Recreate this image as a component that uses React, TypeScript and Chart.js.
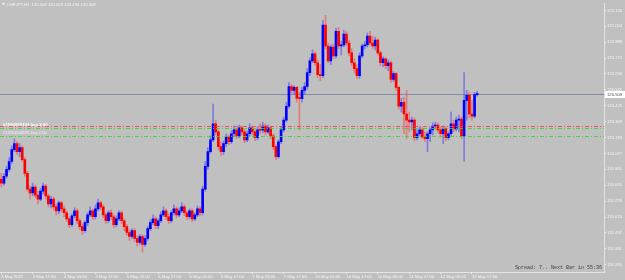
import React, { useEffect, useRef } from 'react';
import { Chart, registerables } from 'chart.js';
Chart.register(...registerables);

// ---------- data ----------
const symbolTitle = 'CHFJPY,H1  120.506 120.529 120.494 120.509';
const statusText = 'Spread: 7.. Next Bar in 55:36';
const firstOpen = 119.888;
const closes = [
  119.860, 119.910, 119.960, 120.018, 120.104, 120.148, 120.090, 120.119, 120.032, 119.931,
  119.816, 119.788, 119.831, 119.773, 119.744, 119.802, 119.838, 119.766, 119.708, 119.744,
  119.687, 119.658, 119.716, 119.672, 119.644, 119.600, 119.557, 119.622, 119.658, 119.586,
  119.543, 119.514, 119.572, 119.629, 119.658, 119.615, 119.672, 119.716, 119.687, 119.629,
  119.586, 119.644, 119.615, 119.557, 119.600, 119.644, 119.586, 119.543, 119.500, 119.471,
  119.514, 119.456, 119.428, 119.471, 119.413, 119.456, 119.528, 119.572, 119.600, 119.550,
  119.586, 119.629, 119.658, 119.615, 119.586, 119.644, 119.672, 119.629, 119.658, 119.687,
  119.644, 119.615, 119.658, 119.600, 119.629, 119.672, 119.644, 119.816, 119.982, 120.090,
  120.176, 120.292, 120.234, 120.126, 120.090, 120.148, 120.198, 120.162, 120.220, 120.248,
  120.205, 120.263, 120.234, 120.176, 120.220, 120.263, 120.234, 120.191, 120.248, 120.246,
  120.277, 120.234, 120.263, 120.205, 120.126, 120.054, 120.162, 120.248, 120.320, 120.421,
  120.565, 120.536, 120.558, 120.479, 120.476, 120.536, 120.565, 120.666, 120.752, 120.803,
  120.738, 120.652, 120.644, 121.012, 120.860, 120.752, 120.853, 120.788, 120.968, 120.860,
  120.868, 120.947, 120.882, 120.810, 120.738, 120.695, 120.644, 120.788, 120.860, 120.868,
  120.932, 120.882, 120.860, 120.904, 120.810, 120.738, 120.767, 120.716, 120.738, 120.616,
  120.659, 120.558, 120.421, 120.450, 120.364, 120.320, 120.306, 120.320, 120.191, 120.220,
  120.248, 120.198, 120.184, 120.220, 120.248, 120.277, 120.284, 120.248, 120.220, 120.256,
  120.191, 120.220, 120.292, 120.256, 120.320, 120.328, 120.205, 120.464, 120.500, 120.364,
  120.349, 120.506, 120.509,
];
const highs = [
  119.931, 119.931, 119.982, 120.047, 120.133, 120.184, 120.162, 120.148, 120.133, 120.047,
  119.946, 119.838, 119.860, 119.845, 119.802, 119.824, 119.860, 119.852, 119.780, 119.766,
  119.759, 119.708, 119.730, 119.730, 119.694, 119.658, 119.615, 119.636, 119.680, 119.672,
  119.600, 119.564, 119.586, 119.644, 119.687, 119.672, 119.701, 119.744, 119.730, 119.701,
  119.644, 119.658, 119.665, 119.629, 119.622, 119.658, 119.658, 119.600, 119.557, 119.521,
  119.528, 119.528, 119.478, 119.485, 119.485, 119.478, 119.543, 119.593, 119.629, 119.615,
  119.600, 119.651, 119.687, 119.672, 119.636, 119.658, 119.701, 119.687, 119.680, 119.716,
  119.701, 119.658, 119.672, 119.672, 119.644, 119.694, 119.687, 119.838, 120.018, 120.119,
  120.205, 120.436, 120.320, 120.248, 120.162, 120.169, 120.220, 120.212, 120.241, 120.277,
  120.263, 120.284, 120.277, 120.248, 120.241, 120.292, 120.277, 120.248, 120.270, 120.292,
  120.306, 120.292, 120.284, 120.277, 120.220, 120.140, 120.176, 120.270, 120.342, 120.450,
  120.594, 120.580, 120.572, 120.565, 120.522, 120.558, 120.594, 120.695, 120.774, 120.832,
  120.817, 120.760, 120.724, 121.048, 121.084, 120.882, 120.868, 120.875, 120.990, 120.997,
  120.896, 120.976, 120.968, 120.904, 120.839, 120.767, 120.724, 120.810, 120.875, 120.896,
  120.954, 120.968, 120.932, 120.925, 120.911, 120.824, 120.781, 120.774, 120.760, 120.752,
  120.673, 120.666, 120.565, 120.479, 120.486, 120.536, 120.378, 120.342, 120.335, 120.248,
  120.270, 120.263, 120.234, 120.234, 120.263, 120.299, 120.306, 120.299, 120.270, 120.277,
  120.270, 120.234, 120.378, 120.320, 120.342, 120.356, 120.342, 120.666, 120.536, 120.522,
  120.464, 120.522, 120.529,
];
const lows = [
  119.831, 119.845, 119.896, 119.946, 120.004, 120.090, 120.068, 120.054, 120.018, 119.910,
  119.802, 119.744, 119.766, 119.752, 119.708, 119.730, 119.780, 119.744, 119.687, 119.680,
  119.665, 119.629, 119.636, 119.651, 119.615, 119.579, 119.536, 119.543, 119.608, 119.564,
  119.521, 119.485, 119.500, 119.550, 119.615, 119.593, 119.600, 119.658, 119.665, 119.608,
  119.564, 119.572, 119.593, 119.536, 119.543, 119.586, 119.564, 119.514, 119.478, 119.442,
  119.456, 119.435, 119.399, 119.413, 119.356, 119.399, 119.442, 119.514, 119.557, 119.528,
  119.528, 119.572, 119.615, 119.593, 119.564, 119.572, 119.629, 119.608, 119.615, 119.644,
  119.622, 119.593, 119.600, 119.579, 119.586, 119.615, 119.622, 119.629, 119.802, 119.960,
  120.076, 120.162, 120.212, 120.104, 120.061, 120.068, 120.126, 120.140, 120.148, 120.198,
  120.184, 120.191, 120.212, 120.155, 120.162, 120.205, 120.212, 120.169, 120.176, 120.220,
  120.227, 120.212, 120.220, 120.184, 120.104, 120.032, 120.040, 120.148, 120.234, 120.306,
  120.407, 120.515, 120.508, 120.450, 120.248, 120.450, 120.508, 120.544, 120.644, 120.738,
  120.716, 120.630, 120.608, 120.630, 120.839, 120.738, 120.724, 120.767, 120.774, 120.839,
  120.796, 120.853, 120.860, 120.788, 120.716, 120.666, 120.623, 120.623, 120.774, 120.839,
  120.853, 120.868, 120.839, 120.832, 120.796, 120.716, 120.709, 120.695, 120.680, 120.594,
  120.601, 120.536, 120.400, 120.378, 120.220, 120.184, 120.234, 120.248, 120.169, 120.176,
  120.205, 120.184, 120.162, 120.090, 120.162, 120.212, 120.256, 120.227, 120.198, 120.148,
  120.169, 120.176, 120.205, 120.234, 120.241, 120.234, 120.184, 120.018, 120.320, 120.335,
  120.320, 120.335, 120.494,
];
const xTickIndex = [0, 12, 24, 36, 48, 60, 72, 84, 96, 108, 120, 132, 144, 156, 168, 180];
const xTickLabels = [
  '3 May 2021', '3 May 17:00', '4 May 05:00', '4 May 17:00', '5 May 05:00', '5 May 17:00',
  '6 May 05:00', '6 May 17:00', '7 May 05:00', '7 May 17:00', '10 May 05:00', '10 May 17:00',
  '11 May 05:00', '11 May 17:00', '12 May 05:00', '12 May 17:00',
];
const yTickValues = [
  121.120, 121.004, 120.888, 120.772, 120.656, 120.541, 120.425, 120.309, 120.193,
  120.077, 119.961, 119.845, 119.729, 119.613, 119.497, 119.381, 119.265,
];
const yTickLabels = [
  '121.120', '121.004', '120.888', '120.772', '120.656', '120.541', '120.425', '120.309', '120.193',
  '120.077', '119.961', '119.845', '119.729', '119.613', '119.497', '119.381', '119.265',
];
const bidPrice = 120.509;
const stopLevel = 120.275;
const orderLevels = [120.263, 120.205];
const orderLabels = ['#1990026193 buy 2.00', '#1990026095 buy 2.00'];
const TOTAL_SLOTS = 231;
const Y_MAX = 121.17;
const Y_MIN = 119.212;

// ---------- style ----------
const BG = '#c0c0c0';
const UP = '#0000ff';
const DOWN = '#ff0000';
const UP_WICK = 'rgba(60,60,255,0.5)';
const DOWN_WICK = 'rgba(255,60,60,0.5)';
const AXIS_TEXT = '#f4f4f4';
const FONT = 'Liberation Sans';

const opens = closes.map((_, i) => (i === 0 ? firstOpen : closes[i - 1]));
const slotLabels = Array.from({ length: TOTAL_SLOTS }, (_, i) => String(i));

const mtPlugin = {
  id: 'mt4',
  beforeDraw(chart: any) {
    const ctx = chart.ctx;
    ctx.save();
    ctx.fillStyle = BG;
    ctx.fillRect(0, 0, chart.width, chart.height);
    ctx.restore();
  },
  beforeDatasetsDraw(chart: any) {
    const { ctx, chartArea, scales } = chart;
    const y = Math.round(scales.y.getPixelForValue(bidPrice)) + 0.5;
    ctx.save();
    ctx.strokeStyle = 'rgba(120,128,165,0.85)';
    ctx.lineWidth = 1;
    ctx.beginPath();
    ctx.moveTo(chartArea.left, y);
    ctx.lineTo(chartArea.right, y);
    ctx.stroke();
    ctx.restore();
  },
  afterDatasetsDraw(chart: any) {
    const { ctx, chartArea, scales } = chart;
    ctx.save();
    ctx.lineWidth = 1;
    ctx.setLineDash([4, 2, 1, 2]);
    const ys = Math.round(scales.y.getPixelForValue(stopLevel)) + 0.5;
    ctx.strokeStyle = 'rgba(255,60,60,0.85)';
    ctx.beginPath();
    ctx.moveTo(chartArea.left, ys);
    ctx.lineTo(chartArea.right, ys);
    ctx.stroke();
    ctx.strokeStyle = 'rgba(50,215,50,0.85)';
    orderLevels.forEach((lv) => {
      const yy = Math.round(scales.y.getPixelForValue(lv)) + 0.5;
      ctx.beginPath();
      ctx.moveTo(chartArea.left, yy);
      ctx.lineTo(chartArea.right, yy);
      ctx.stroke();
    });
    ctx.setLineDash([]);
    ctx.textBaseline = 'middle';
    ctx.textAlign = 'left';
    orderLabels.forEach((t, i) => {
      const yy = scales.y.getPixelForValue(orderLevels[i]) - 3;
      ctx.font = (i === 0 ? 'bold ' : '') + `4.3px "${FONT}"`;
      ctx.fillStyle = i === 0 ? '#ffffff' : '#eeeeee';
      ctx.fillText(t, 3, yy);
    });
    ctx.restore();
  },
  afterDraw(chart: any) {
    const { ctx, chartArea, scales } = chart;
    ctx.save();
    const yb = scales.y.getPixelForValue(bidPrice);
    ctx.fillStyle = '#ffffff';
    ctx.fillRect(chartArea.right + 1, Math.round(yb) - 3, 20, 7);
    ctx.fillStyle = '#505050';
    ctx.font = `4.2px "${FONT}"`;
    ctx.textBaseline = 'middle';
    ctx.textAlign = 'left';
    ctx.fillText(bidPrice.toFixed(3), chartArea.right + 3, yb + 0.5);
    ctx.fillStyle = '#f4f4f4';
    ctx.beginPath();
    ctx.moveTo(2, 3);
    ctx.lineTo(5, 3);
    ctx.lineTo(3.5, 5.5);
    ctx.closePath();
    ctx.fill();
    ctx.font = `4.2px "${FONT}"`;
    ctx.fillText(symbolTitle, 7, 4.5);
    ctx.fillStyle = '#404040';
    ctx.font = '5px "Liberation Mono"';
    ctx.textAlign = 'right';
    ctx.fillText(statusText, chartArea.right - 2, chartArea.bottom - 4);
    ctx.restore();
  },
};

export default function App() {
  const ref = useRef<HTMLCanvasElement | null>(null);
  useEffect(() => {
    if (!ref.current) return;
    const bodyColors = closes.map((c, i) => (c >= opens[i] ? UP : DOWN));
    const wickColors = closes.map((c, i) => (c >= opens[i] ? UP_WICK : DOWN_WICK));
    const chart = new Chart(ref.current, {
      type: 'bar',
      data: {
        labels: slotLabels,
        datasets: [
          {
            label: 'body',
            data: opens.map((o, i) => [o, closes[i]]) as any,
            backgroundColor: bodyColors,
            borderWidth: 0,
            barThickness: 2,
            minBarLength: 1,
            grouped: false,
            order: 1,
          } as any,
          {
            label: 'wick',
            data: lows.map((l, i) => [l, highs[i]]) as any,
            backgroundColor: wickColors,
            borderWidth: 0,
            barThickness: 1,
            grouped: false,
            order: 2,
          } as any,
        ],
      },
      options: {
        animation: false,
        responsive: false,
        devicePixelRatio: 1,
        layout: { padding: 0 },
        plugins: {
          legend: { display: false },
          tooltip: { enabled: false },
        },
        scales: {
          x: {
            type: 'category',
            offset: true,
            grid: {
              display: true,
              drawOnChartArea: false,
              drawTicks: true,
              tickLength: 2,
              color: '#eeeeee',
              offset: false,
            },
            border: { display: true, color: '#e4e4e4' },
            ticks: {
              autoSkip: false,
              maxRotation: 0,
              minRotation: 0,
              align: 'start',
              padding: 0,
              color: AXIS_TEXT,
              font: { family: FONT, size: 4.2 },
              callback: (_v: any, i: number) => xTickLabels[i] ?? '',
            },
            afterBuildTicks: (s: any) => {
              s.ticks = xTickIndex.map((v) => ({ value: v }));
            },
            afterFit: (s: any) => {
              s.height = 8;
            },
          },
          y: {
            type: 'linear',
            position: 'right',
            min: Y_MIN,
            max: Y_MAX,
            grid: {
              drawOnChartArea: false,
              drawTicks: true,
              tickLength: 2,
              color: '#eeeeee',
            },
            border: { display: true, color: '#e4e4e4' },
            ticks: {
              padding: 1,
              color: AXIS_TEXT,
              font: { family: FONT, size: 4.2 },
              callback: (_v: any, i: number) => yTickLabels[i] ?? '',
            },
            afterBuildTicks: (s: any) => {
              s.ticks = yTickValues.map((v) => ({ value: v }));
            },
            afterFit: (s: any) => {
              s.width = 21;
            },
          },
        },
      } as any,
      plugins: [mtPlugin],
    });
    return () => chart.destroy();
  }, []);
  return (
    <div style={{ position: 'fixed', left: 0, top: 0, width: 625, height: 280, background: BG }}>
      <canvas ref={ref} width={625} height={280} style={{ display: 'block', width: 625, height: 280 }} />
    </div>
  );
}
